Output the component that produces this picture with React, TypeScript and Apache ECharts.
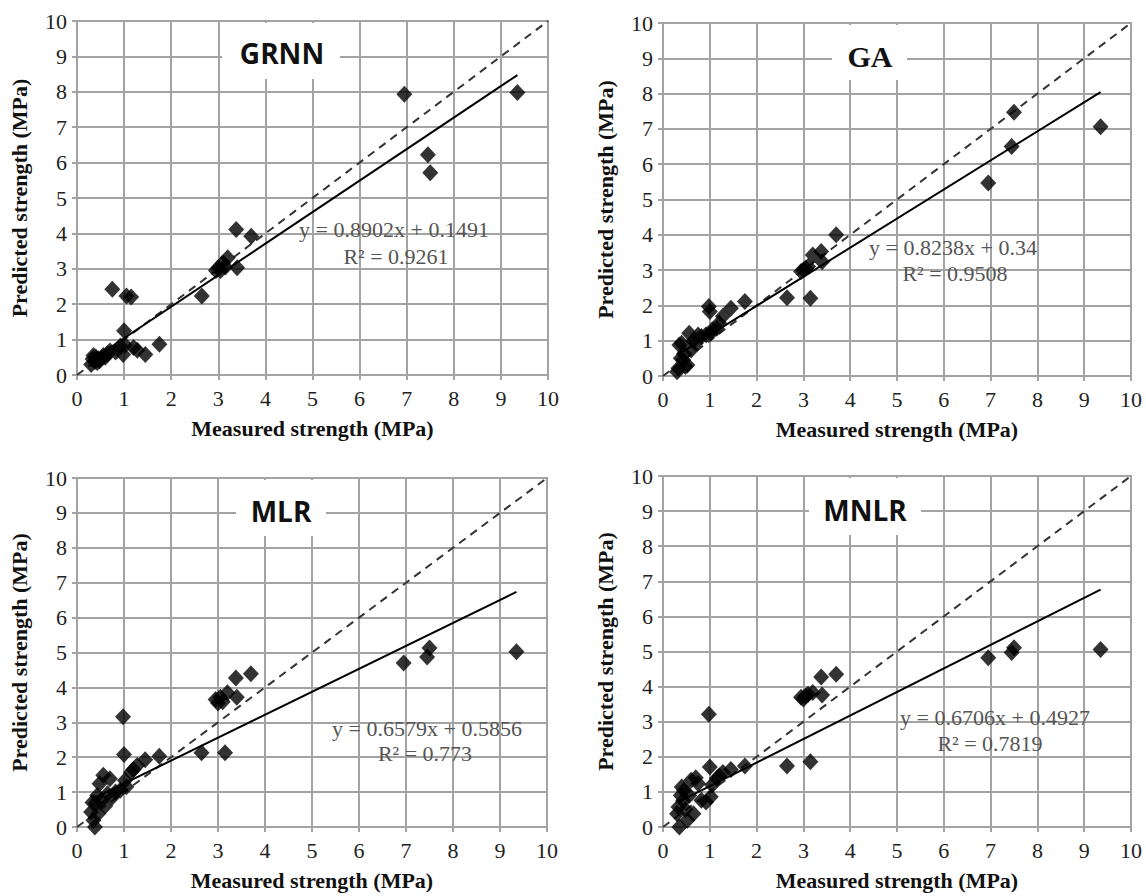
import React, { useEffect, useRef } from "react";
import * as echarts from "echarts";

const measured = [
  0.3, 0.33, 0.35, 0.38, 0.4, 0.43, 0.45, 0.48, 0.52, 0.56, 0.6, 0.65, 0.7, 0.75, 0.82, 0.92, 0.98, 1.0, 1.02,
  1.05, 1.15, 1.2, 1.28, 1.45, 1.75, 2.65, 2.95, 3.0, 3.05, 3.1, 3.15, 3.2, 3.38, 3.4, 3.7, 6.95, 7.45, 7.5, 9.35,
];

const grnnPred = [
  0.3, 0.45, 0.55, 0.38, 0.5, 0.35, 0.45, 0.4, 0.48, 0.55, 0.5, 0.6, 0.68, 2.42, 0.65, 0.82, 0.58, 1.25, 0.85,
  2.23, 2.2, 0.78, 0.7, 0.58, 0.87, 2.23, 2.95, 3.03, 2.95, 3.17, 3.05, 3.31, 4.11, 3.03, 3.92, 7.93, 6.22, 5.71, 7.98,
];
const gaPred = [
  0.12, 0.22, 0.88, 0.5, 0.93, 0.45, 0.64, 0.27, 0.31, 1.21, 0.74, 1.0, 0.93, 1.16, 1.12, 1.17, 1.97, 1.83, 1.21,
  1.3, 1.35, 1.5, 1.69, 1.92, 2.11, 2.22, 2.96, 3.0, 3.05, 3.1, 2.2, 3.43, 3.53, 3.24, 4.0, 5.47, 6.5, 7.47, 7.06,
];
const mlrPred = [
  0.43, 0.7, 0.19, 0.0, 0.67, 0.9, 0.38, 1.24, 0.76, 1.48, 0.6, 0.95, 1.38, 0.85, 1.0, 1.05, 3.16, 2.08, 1.33,
  1.15, 1.57, 1.65, 1.76, 1.93, 2.03, 2.13, 3.65, 3.55, 3.72, 3.59, 2.13, 3.85, 4.27, 3.72, 4.39, 4.7, 4.87, 5.13, 5.02,
];
const mnlrPred = [
  0.38, 0.57, 0.0, 0.9, 1.14, 0.75, 1.05, 0.5, 0.19, 0.9, 1.33, 0.38, 1.4, 1.24, 0.76, 0.71, 3.21, 1.71, 0.86,
  1.2, 1.38, 1.45, 1.55, 1.64, 1.74, 1.74, 3.7, 3.65, 3.73, 3.78, 1.86, 3.83, 4.27, 3.76, 4.35, 4.82, 4.97, 5.11, 5.06,
];

const modelNames = ["GRNN", "GA", "MLR", "MNLR"];
const slopes = [0.8902, 0.8238, 0.6579, 0.6706];
const intercepts = [0.1491, 0.34, 0.5856, 0.4927];
const eqLabels = ["y = 0.8902x + 0.1491", "y = 0.8238x + 0.34", "y = 0.6579x + 0.5856", "y = 0.6706x + 0.4927"];
const r2Labels = ["R² = 0.9261", "R² = 0.9508", "R² = 0.773", "R² = 0.7819"];
const predictions = [grnnPred, gaPred, mlrPred, mnlrPred];

const xAxisName = "Measured strength (MPa)";
const yAxisName = "Predicted strength (MPa)";

const SERIF = "'Liberation Serif', 'Times New Roman', serif";

// layout (pixels)
const grids = [
  { left: 77, top: 21, width: 471, height: 354 },
  { left: 663, top: 23, width: 468, height: 353 },
  { left: 77, top: 478, width: 470, height: 349 },
  { left: 663, top: 476, width: 468, height: 351 },
];
const titleBoxes = [
  { x: 222, y: 23, w: 118, h: 56, cx: 282, cy: 53, font: "bold 28px 'Open Sans'" },
  { x: 832, y: 25, w: 75, h: 55, cx: 870, cy: 56, font: "bold 30px 'Liberation Serif'" },
  { x: 236, y: 480, w: 90, h: 56, cx: 281, cy: 511, font: "bold 28px 'Open Sans'" },
  { x: 809, y: 478, w: 112, h: 57, cx: 865, cy: 510, font: "bold 28px 'Open Sans'" },
];
const eqPos = [
  { cx: 394, ey: 229, ry: 256, rx: 396 },
  { cx: 953, ey: 247, ry: 273, rx: 955 },
  { cx: 427, ey: 728, ry: 753, rx: 425 },
  { cx: 995, ey: 717, ry: 743, rx: 990 },
];

export default function App() {
  const ref = useRef<HTMLDivElement>(null);
  useEffect(() => {
    document.body.style.margin = "0";
    if (!ref.current) return;
    const chart = echarts.init(ref.current, undefined, { renderer: "svg" });
    const gray = "#a3a3a3";
    const xMin = Math.min(...measured);
    const xMax = Math.max(...measured);

    const xAxis: any[] = [];
    const yAxis: any[] = [];
    const series: any[] = [];
    const graphic: any[] = [];

    grids.forEach((g, i) => {
      xAxis.push({
        gridIndex: i,
        type: "value",
        min: 0,
        max: 10,
        interval: 1,
        name: xAxisName,
        nameLocation: "middle",
        nameGap: 42,
        nameTextStyle: { fontFamily: SERIF, fontWeight: "bold", fontSize: 22, color: "#111" },
        axisLine: { show: false },
        axisTick: { show: true, length: 5, lineStyle: { color: gray, width: 2 } },
        axisLabel: { fontFamily: SERIF, fontSize: 22, color: "#222", margin: 12 },
        splitLine: { show: true, lineStyle: { color: gray, width: 2 } },
      });
      yAxis.push({
        gridIndex: i,
        type: "value",
        min: 0,
        max: 10,
        interval: 1,
        name: yAxisName,
        nameLocation: "middle",
        nameGap: 47,
        nameTextStyle: { fontFamily: SERIF, fontWeight: "bold", fontSize: 22, color: "#111" },
        axisLine: { show: false },
        axisTick: { show: true, length: 5, lineStyle: { color: gray, width: 2 } },
        axisLabel: { fontFamily: SERIF, fontSize: 22, color: "#222", margin: 10 },
        splitLine: { show: true, lineStyle: { color: gray, width: 2 } },
      });
      series.push({
        type: "line",
        xAxisIndex: i,
        yAxisIndex: i,
        data: [
          [0, 0],
          [10, 10],
        ],
        showSymbol: false,
        lineStyle: { color: "#333", width: 2, type: [8, 6] },
        z: 2,
      });
      series.push({
        type: "scatter",
        xAxisIndex: i,
        yAxisIndex: i,
        symbol: "diamond",
        symbolSize: [16, 17],
        itemStyle: { color: "#000" },
        data: measured.map((m, k) => [m, predictions[i][k]]),
        z: 3,
      });
      series.push({
        type: "line",
        xAxisIndex: i,
        yAxisIndex: i,
        data: [
          [xMin, slopes[i] * xMin + intercepts[i]],
          [xMax, slopes[i] * xMax + intercepts[i]],
        ],
        showSymbol: false,
        lineStyle: { color: "#000", width: 2 },
        z: 4,
      });
      const b = titleBoxes[i];
      graphic.push({
        type: "rect",
        shape: { x: b.x, y: b.y, width: b.w, height: b.h },
        style: { fill: "#fff" },
        z: 10,
      });
      graphic.push({
        type: "text",
        x: b.cx,
        y: b.cy,
        style: { text: modelNames[i], font: b.font, fill: "#111", textAlign: "center", textVerticalAlign: "middle" },
        z: 11,
      });
      const e = eqPos[i];
      graphic.push({
        type: "text",
        x: e.cx,
        y: e.ey,
        style: {
          text: eqLabels[i],
          font: "22px 'Liberation Serif'",
          fill: "#555",
          textAlign: "center",
          textVerticalAlign: "middle",
        },
        z: 11,
      });
      graphic.push({
        type: "text",
        x: e.rx,
        y: e.ry,
        style: {
          text: r2Labels[i],
          font: "22px 'Liberation Serif'",
          fill: "#555",
          textAlign: "center",
          textVerticalAlign: "middle",
        },
        z: 11,
      });
    });

    chart.setOption({
      animation: false,
      backgroundColor: "#fff",
      grid: grids.map((g) => ({ ...g, show: true, borderColor: gray, borderWidth: 2, backgroundColor: "#fff" })),
      xAxis,
      yAxis,
      series,
      graphic,
    });
    return () => chart.dispose();
  }, []);
  return <div ref={ref} style={{ width: 1146, height: 896 }} />;
}
